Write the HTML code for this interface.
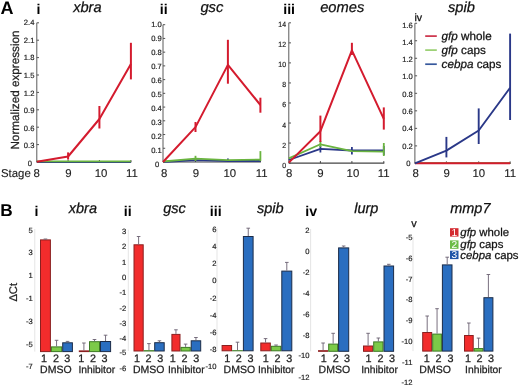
<!DOCTYPE html>
<html><head><meta charset="utf-8"><style>
html,body{margin:0;padding:0;background:#fff;}
svg{display:block;filter:blur(0.4px);font-family:"Liberation Sans", sans-serif;text-rendering:geometricPrecision;}
</style></head><body>
<svg width="520" height="387" viewBox="0 0 520 387">
<rect width="520" height="387" fill="#fff"/>
<text x="0.6" y="13.9" font-size="18.0" text-anchor="start" font-weight="bold" font-style="normal" fill="#000" >A</text>
<text x="36.6" y="14.2" font-size="14.2" text-anchor="start" font-weight="bold" font-style="normal" fill="#000" letter-spacing="0">i</text>
<text x="73.2" y="11.7" font-size="14.6" text-anchor="start" font-weight="normal" font-style="italic" fill="#111" stroke="#111" stroke-width="0.25" >xbra</text>
<text x="159.8" y="14.2" font-size="14.2" text-anchor="start" font-weight="bold" font-style="normal" fill="#000" letter-spacing="0">ii</text>
<text x="200.4" y="11.6" font-size="14.8" text-anchor="start" font-weight="normal" font-style="italic" fill="#111" stroke="#111" stroke-width="0.25" >gsc</text>
<text x="283.2" y="14.2" font-size="14.2" text-anchor="start" font-weight="bold" font-style="normal" fill="#000" letter-spacing="0">iii</text>
<text x="320.2" y="11.6" font-size="14.7" text-anchor="start" font-weight="normal" font-style="italic" fill="#111" stroke="#111" stroke-width="0.25" >eomes</text>
<text x="414.4" y="21.0" font-size="10.6" text-anchor="start" font-weight="normal" font-style="normal" fill="#111" stroke="#111" stroke-width="0.25" >iv</text>
<text x="448" y="11.7" font-size="14.6" text-anchor="start" font-weight="normal" font-style="italic" fill="#111" stroke="#111" stroke-width="0.25" >spib</text>
<text transform="translate(18.9,149.6) rotate(-90)" font-size="11.72" fill="#222" stroke="#222" stroke-width="0.25">Normalized expression</text>
<line x1="36.8" y1="22.80000000000001" x2="36.8" y2="162.0" stroke="#5a5a5a" stroke-width="1.0" />
<line x1="36.8" y1="162.0" x2="131.4" y2="162.0" stroke="#444" stroke-width="1.2" />
<line x1="36.8" y1="162.0" x2="39.0" y2="162.0" stroke="#555" stroke-width="1" />
<text transform="translate(31.999999999999993,165.79999999999998) scale(1.0,1)" font-size="7.6" text-anchor="end" fill="#222" stroke="#222" stroke-width="0.18">0</text>
<line x1="36.8" y1="144.6" x2="39.0" y2="144.6" stroke="#555" stroke-width="1" />
<text transform="translate(34.39999999999999,148.23199999999997) scale(1.0,1)" font-size="7.6" text-anchor="end" fill="#222" stroke="#222" stroke-width="0.18">0.3</text>
<line x1="36.8" y1="127.2" x2="39.0" y2="127.2" stroke="#555" stroke-width="1" />
<text transform="translate(34.39999999999999,130.664) scale(1.0,1)" font-size="7.6" text-anchor="end" fill="#222" stroke="#222" stroke-width="0.18">0.6</text>
<line x1="36.8" y1="109.8" x2="39.0" y2="109.8" stroke="#555" stroke-width="1" />
<text transform="translate(34.39999999999999,113.09599999999999) scale(1.0,1)" font-size="7.6" text-anchor="end" fill="#222" stroke="#222" stroke-width="0.18">0.9</text>
<line x1="36.8" y1="92.4" x2="39.0" y2="92.4" stroke="#555" stroke-width="1" />
<text transform="translate(34.39999999999999,95.52799999999999) scale(1.0,1)" font-size="7.6" text-anchor="end" fill="#222" stroke="#222" stroke-width="0.18">1.2</text>
<line x1="36.8" y1="75.0" x2="39.0" y2="75.0" stroke="#555" stroke-width="1" />
<text transform="translate(34.39999999999999,77.96) scale(1.0,1)" font-size="7.6" text-anchor="end" fill="#222" stroke="#222" stroke-width="0.18">1.5</text>
<line x1="36.8" y1="57.599999999999994" x2="39.0" y2="57.599999999999994" stroke="#555" stroke-width="1" />
<text transform="translate(34.39999999999999,60.391999999999996) scale(1.0,1)" font-size="7.6" text-anchor="end" fill="#222" stroke="#222" stroke-width="0.18">1.8</text>
<line x1="36.8" y1="40.19999999999999" x2="39.0" y2="40.19999999999999" stroke="#555" stroke-width="1" />
<text transform="translate(34.39999999999999,42.823999999999984) scale(1.0,1)" font-size="7.6" text-anchor="end" fill="#222" stroke="#222" stroke-width="0.18">2.1</text>
<line x1="36.8" y1="22.80000000000001" x2="39.0" y2="22.80000000000001" stroke="#555" stroke-width="1" />
<text transform="translate(34.39999999999999,25.255999999999982) scale(1.0,1)" font-size="7.6" text-anchor="end" fill="#222" stroke="#222" stroke-width="0.18">2.4</text>
<line x1="68.1" y1="162.0" x2="68.1" y2="160.0" stroke="#444" stroke-width="1" />
<line x1="99.4" y1="162.0" x2="99.4" y2="160.0" stroke="#444" stroke-width="1" />
<line x1="130.9" y1="162.0" x2="130.9" y2="160.0" stroke="#444" stroke-width="1" />
<polyline points="36.80,162.20 68.10,162.20 99.40,162.20 130.90,162.20" fill="none" stroke="#2a3888" stroke-width="1.8" stroke-linejoin="round"/>
<polyline points="36.80,161.30 68.10,161.30 99.40,161.30 130.90,161.30" fill="none" stroke="#6ab43f" stroke-width="1.8" stroke-linejoin="round"/>
<polyline points="36.80,161.70 68.10,156.50 99.40,119.00 130.90,63.90" fill="none" stroke="#d41b2e" stroke-width="2.0" stroke-linejoin="round"/>
<line x1="68.1" y1="152.4" x2="68.1" y2="159.6" stroke="#d41b2e" stroke-width="2.0" />
<line x1="99.4" y1="106" x2="99.4" y2="128.5" stroke="#d41b2e" stroke-width="2.0" />
<line x1="130.9" y1="42.8" x2="130.9" y2="79.4" stroke="#d41b2e" stroke-width="2.0" />
<text x="36.6" y="177.2" font-size="11.4" text-anchor="middle" font-weight="normal" font-style="normal" fill="#222" stroke="#222" stroke-width="0.12" >8</text>
<text x="68.5" y="177.2" font-size="11.4" text-anchor="middle" font-weight="normal" font-style="normal" fill="#222" stroke="#222" stroke-width="0.12" >9</text>
<text x="101" y="177.2" font-size="11.4" text-anchor="middle" font-weight="normal" font-style="normal" fill="#222" stroke="#222" stroke-width="0.12" >10</text>
<text x="131.9" y="177.2" font-size="11.4" text-anchor="middle" font-weight="normal" font-style="normal" fill="#222" stroke="#222" stroke-width="0.12" >11</text>
<text x="1" y="177.2" font-size="11.4" text-anchor="start" font-weight="normal" font-style="normal" fill="#222" stroke="#222" stroke-width="0.12" >Stage</text>
<line x1="163" y1="24.69999999999999" x2="163" y2="162.0" stroke="#5a5a5a" stroke-width="1.0" />
<line x1="163" y1="162.0" x2="260.9" y2="162.0" stroke="#444" stroke-width="1.2" />
<line x1="163" y1="162.0" x2="165.2" y2="162.0" stroke="#555" stroke-width="1" />
<text transform="translate(159.3,167.2) scale(1.0,1)" font-size="7.6" text-anchor="end" fill="#222" stroke="#222" stroke-width="0.18">0</text>
<line x1="163" y1="148.27" x2="165.2" y2="148.27" stroke="#555" stroke-width="1" />
<text transform="translate(161.70000000000002,153.16) scale(1.0,1)" font-size="7.6" text-anchor="end" fill="#222" stroke="#222" stroke-width="0.18">0.1</text>
<line x1="163" y1="134.54" x2="165.2" y2="134.54" stroke="#555" stroke-width="1" />
<text transform="translate(161.70000000000002,139.11999999999998) scale(1.0,1)" font-size="7.6" text-anchor="end" fill="#222" stroke="#222" stroke-width="0.18">0.2</text>
<line x1="163" y1="120.81" x2="165.2" y2="120.81" stroke="#555" stroke-width="1" />
<text transform="translate(161.70000000000002,125.08) scale(1.0,1)" font-size="7.6" text-anchor="end" fill="#222" stroke="#222" stroke-width="0.18">0.3</text>
<line x1="163" y1="107.07999999999998" x2="165.2" y2="107.07999999999998" stroke="#555" stroke-width="1" />
<text transform="translate(161.70000000000002,111.04) scale(1.0,1)" font-size="7.6" text-anchor="end" fill="#222" stroke="#222" stroke-width="0.18">0.4</text>
<line x1="163" y1="93.35" x2="165.2" y2="93.35" stroke="#555" stroke-width="1" />
<text transform="translate(161.70000000000002,97.0) scale(1.0,1)" font-size="7.6" text-anchor="end" fill="#222" stroke="#222" stroke-width="0.18">0.5</text>
<line x1="163" y1="79.61999999999999" x2="165.2" y2="79.61999999999999" stroke="#555" stroke-width="1" />
<text transform="translate(161.70000000000002,82.96000000000001) scale(1.0,1)" font-size="7.6" text-anchor="end" fill="#222" stroke="#222" stroke-width="0.18">0.6</text>
<line x1="163" y1="65.89" x2="165.2" y2="65.89" stroke="#555" stroke-width="1" />
<text transform="translate(161.70000000000002,68.92) scale(1.0,1)" font-size="7.6" text-anchor="end" fill="#222" stroke="#222" stroke-width="0.18">0.7</text>
<line x1="163" y1="52.15999999999998" x2="165.2" y2="52.15999999999998" stroke="#555" stroke-width="1" />
<text transform="translate(161.70000000000002,54.879999999999995) scale(1.0,1)" font-size="7.6" text-anchor="end" fill="#222" stroke="#222" stroke-width="0.18">0.8</text>
<line x1="163" y1="38.42999999999999" x2="165.2" y2="38.42999999999999" stroke="#555" stroke-width="1" />
<text transform="translate(161.70000000000002,40.83999999999999) scale(1.0,1)" font-size="7.6" text-anchor="end" fill="#222" stroke="#222" stroke-width="0.18">0.9</text>
<line x1="163" y1="24.69999999999999" x2="165.2" y2="24.69999999999999" stroke="#555" stroke-width="1" />
<text transform="translate(161.70000000000002,26.799999999999994) scale(1.0,1)" font-size="7.6" text-anchor="end" fill="#222" stroke="#222" stroke-width="0.18">1.0</text>
<line x1="195.5" y1="162.0" x2="195.5" y2="160.0" stroke="#444" stroke-width="1" />
<line x1="227.9" y1="162.0" x2="227.9" y2="160.0" stroke="#444" stroke-width="1" />
<line x1="260.4" y1="162.0" x2="260.4" y2="160.0" stroke="#444" stroke-width="1" />
<polyline points="163.00,162.00 195.50,160.20 227.90,161.00 260.40,161.00" fill="none" stroke="#2a3888" stroke-width="1.8" stroke-linejoin="round"/>
<line x1="227.9" y1="158.6" x2="227.9" y2="162" stroke="#2a3888" stroke-width="1.8" />
<polyline points="163.00,161.50 195.50,158.60 227.90,160.20 260.40,159.60" fill="none" stroke="#6ab43f" stroke-width="1.8" stroke-linejoin="round"/>
<line x1="195.5" y1="155.8" x2="195.5" y2="161" stroke="#6ab43f" stroke-width="1.8" />
<line x1="260.4" y1="151.1" x2="260.4" y2="161" stroke="#6ab43f" stroke-width="1.8" />
<polyline points="163.00,162.00 195.50,127.10 227.90,64.90 260.40,105.00" fill="none" stroke="#d41b2e" stroke-width="2.0" stroke-linejoin="round"/>
<line x1="195.5" y1="122" x2="195.5" y2="132" stroke="#d41b2e" stroke-width="2.0" />
<line x1="227.9" y1="39.8" x2="227.9" y2="83.7" stroke="#d41b2e" stroke-width="2.0" />
<line x1="260.4" y1="97.7" x2="260.4" y2="112.7" stroke="#d41b2e" stroke-width="2.0" />
<text x="164.2" y="177.2" font-size="11.4" text-anchor="middle" font-weight="normal" font-style="normal" fill="#222" stroke="#222" stroke-width="0.12" >8</text>
<text x="196" y="177.2" font-size="11.4" text-anchor="middle" font-weight="normal" font-style="normal" fill="#222" stroke="#222" stroke-width="0.12" >9</text>
<text x="229.8" y="177.2" font-size="11.4" text-anchor="middle" font-weight="normal" font-style="normal" fill="#222" stroke="#222" stroke-width="0.12" >10</text>
<text x="261.7" y="177.2" font-size="11.4" text-anchor="middle" font-weight="normal" font-style="normal" fill="#222" stroke="#222" stroke-width="0.12" >11</text>
<line x1="288.8" y1="22.819999999999993" x2="288.8" y2="163.1" stroke="#5a5a5a" stroke-width="1.0" />
<line x1="288.8" y1="163.1" x2="384.3" y2="163.1" stroke="#444" stroke-width="1.2" />
<line x1="288.8" y1="163.1" x2="291.0" y2="163.1" stroke="#555" stroke-width="1" />
<text transform="translate(286.0,167.7) scale(0.92,1)" font-size="7.5" text-anchor="end" fill="#222" stroke="#222" stroke-width="0.18">0</text>
<line x1="288.8" y1="143.06" x2="291.0" y2="143.06" stroke="#555" stroke-width="1" />
<text transform="translate(286.0,147.62) scale(0.92,1)" font-size="7.5" text-anchor="end" fill="#222" stroke="#222" stroke-width="0.18">2</text>
<line x1="288.8" y1="123.02" x2="291.0" y2="123.02" stroke="#555" stroke-width="1" />
<text transform="translate(286.0,127.54) scale(0.92,1)" font-size="7.5" text-anchor="end" fill="#222" stroke="#222" stroke-width="0.18">4</text>
<line x1="288.8" y1="102.97999999999999" x2="291.0" y2="102.97999999999999" stroke="#555" stroke-width="1" />
<text transform="translate(286.0,107.46000000000001) scale(0.92,1)" font-size="7.5" text-anchor="end" fill="#222" stroke="#222" stroke-width="0.18">6</text>
<line x1="288.8" y1="82.94" x2="291.0" y2="82.94" stroke="#555" stroke-width="1" />
<text transform="translate(286.0,87.38000000000001) scale(0.92,1)" font-size="7.5" text-anchor="end" fill="#222" stroke="#222" stroke-width="0.18">8</text>
<line x1="288.8" y1="62.900000000000006" x2="291.0" y2="62.900000000000006" stroke="#555" stroke-width="1" />
<text transform="translate(286.0,67.30000000000001) scale(0.92,1)" font-size="7.5" text-anchor="end" fill="#222" stroke="#222" stroke-width="0.18">10</text>
<line x1="288.8" y1="42.86" x2="291.0" y2="42.86" stroke="#555" stroke-width="1" />
<text transform="translate(286.0,47.22000000000001) scale(0.92,1)" font-size="7.5" text-anchor="end" fill="#222" stroke="#222" stroke-width="0.18">12</text>
<line x1="288.8" y1="22.819999999999993" x2="291.0" y2="22.819999999999993" stroke="#555" stroke-width="1" />
<text transform="translate(286.0,27.139999999999997) scale(0.92,1)" font-size="7.5" text-anchor="end" fill="#222" stroke="#222" stroke-width="0.18">14</text>
<line x1="320.4" y1="163.1" x2="320.4" y2="161.1" stroke="#444" stroke-width="1" />
<line x1="351.9" y1="163.1" x2="351.9" y2="161.1" stroke="#444" stroke-width="1" />
<line x1="383.8" y1="163.1" x2="383.8" y2="161.1" stroke="#444" stroke-width="1" />
<polyline points="288.80,160.00 320.40,148.80 351.90,150.50 383.80,150.50" fill="none" stroke="#2a3888" stroke-width="1.8" stroke-linejoin="round"/>
<line x1="320.4" y1="146" x2="320.4" y2="152.5" stroke="#2a3888" stroke-width="1.8" />
<line x1="351.9" y1="146.9" x2="351.9" y2="154.5" stroke="#2a3888" stroke-width="1.8" />
<line x1="383.8" y1="146" x2="383.8" y2="155" stroke="#2a3888" stroke-width="1.8" />
<polyline points="288.80,158.40 320.40,144.30 351.90,151.10 383.80,151.70" fill="none" stroke="#6ab43f" stroke-width="1.8" stroke-linejoin="round"/>
<line x1="320.4" y1="141" x2="320.4" y2="147" stroke="#6ab43f" stroke-width="1.8" />
<line x1="383.8" y1="143" x2="383.8" y2="156" stroke="#6ab43f" stroke-width="1.8" />
<polyline points="288.80,162.60 320.40,131.20 351.90,50.30 383.80,118.80" fill="none" stroke="#d41b2e" stroke-width="2.0" stroke-linejoin="round"/>
<line x1="320.4" y1="115.6" x2="320.4" y2="142" stroke="#d41b2e" stroke-width="2.0" />
<line x1="351.9" y1="42.8" x2="351.9" y2="55" stroke="#d41b2e" stroke-width="2.0" />
<line x1="383.8" y1="107.4" x2="383.8" y2="129.6" stroke="#d41b2e" stroke-width="2.0" />
<text x="289.2" y="177.2" font-size="11.4" text-anchor="middle" font-weight="normal" font-style="normal" fill="#222" stroke="#222" stroke-width="0.12" >8</text>
<text x="320.4" y="177.2" font-size="11.4" text-anchor="middle" font-weight="normal" font-style="normal" fill="#222" stroke="#222" stroke-width="0.12" >9</text>
<text x="352.9" y="177.2" font-size="11.4" text-anchor="middle" font-weight="normal" font-style="normal" fill="#222" stroke="#222" stroke-width="0.12" >10</text>
<text x="383.6" y="177.2" font-size="11.4" text-anchor="middle" font-weight="normal" font-style="normal" fill="#222" stroke="#222" stroke-width="0.12" >11</text>
<line x1="414.9" y1="23.24000000000001" x2="414.9" y2="163.4" stroke="#5a5a5a" stroke-width="1.0" />
<line x1="414.9" y1="163.4" x2="510.6" y2="163.4" stroke="#444" stroke-width="1.2" />
<line x1="414.9" y1="163.4" x2="417.09999999999997" y2="163.4" stroke="#555" stroke-width="1" />
<text transform="translate(410.40000000000003,165.79999999999998) scale(1.0,1)" font-size="7.6" text-anchor="end" fill="#222" stroke="#222" stroke-width="0.18">0</text>
<line x1="414.9" y1="145.88" x2="417.09999999999997" y2="145.88" stroke="#555" stroke-width="1" />
<text transform="translate(412.8,148.51999999999998) scale(1.0,1)" font-size="7.6" text-anchor="end" fill="#222" stroke="#222" stroke-width="0.18">0.2</text>
<line x1="414.9" y1="128.36" x2="417.09999999999997" y2="128.36" stroke="#555" stroke-width="1" />
<text transform="translate(412.8,131.23999999999998) scale(1.0,1)" font-size="7.6" text-anchor="end" fill="#222" stroke="#222" stroke-width="0.18">0.4</text>
<line x1="414.9" y1="110.84" x2="417.09999999999997" y2="110.84" stroke="#555" stroke-width="1" />
<text transform="translate(412.8,113.96) scale(1.0,1)" font-size="7.6" text-anchor="end" fill="#222" stroke="#222" stroke-width="0.18">0.6</text>
<line x1="414.9" y1="93.32000000000001" x2="417.09999999999997" y2="93.32000000000001" stroke="#555" stroke-width="1" />
<text transform="translate(412.8,96.67999999999999) scale(1.0,1)" font-size="7.6" text-anchor="end" fill="#222" stroke="#222" stroke-width="0.18">0.8</text>
<line x1="414.9" y1="75.80000000000001" x2="417.09999999999997" y2="75.80000000000001" stroke="#555" stroke-width="1" />
<text transform="translate(412.8,79.39999999999999) scale(1.0,1)" font-size="7.6" text-anchor="end" fill="#222" stroke="#222" stroke-width="0.18">1.0</text>
<line x1="414.9" y1="58.280000000000015" x2="417.09999999999997" y2="58.280000000000015" stroke="#555" stroke-width="1" />
<text transform="translate(412.8,62.11999999999999) scale(1.0,1)" font-size="7.6" text-anchor="end" fill="#222" stroke="#222" stroke-width="0.18">1.2</text>
<line x1="414.9" y1="40.76000000000002" x2="417.09999999999997" y2="40.76000000000002" stroke="#555" stroke-width="1" />
<text transform="translate(412.8,44.84) scale(1.0,1)" font-size="7.6" text-anchor="end" fill="#222" stroke="#222" stroke-width="0.18">1.4</text>
<line x1="414.9" y1="23.24000000000001" x2="417.09999999999997" y2="23.24000000000001" stroke="#555" stroke-width="1" />
<text transform="translate(412.8,27.559999999999985) scale(1.0,1)" font-size="7.6" text-anchor="end" fill="#222" stroke="#222" stroke-width="0.18">1.6</text>
<line x1="446.4" y1="163.4" x2="446.4" y2="161.4" stroke="#444" stroke-width="1" />
<line x1="478.7" y1="163.4" x2="478.7" y2="161.4" stroke="#444" stroke-width="1" />
<line x1="510.1" y1="163.4" x2="510.1" y2="161.4" stroke="#444" stroke-width="1" />
<polyline points="414.90,163.20 446.40,163.20 478.70,163.20 510.10,163.20" fill="none" stroke="#6ab43f" stroke-width="1.8" stroke-linejoin="round"/>
<polyline points="414.90,163.20 446.40,163.20 478.70,163.20 510.10,163.20" fill="none" stroke="#d41b2e" stroke-width="2.0" stroke-linejoin="round"/>
<polyline points="414.90,163.40 446.40,150.60 478.70,130.50 510.10,87.80" fill="none" stroke="#2a3888" stroke-width="1.9" stroke-linejoin="round"/>
<line x1="446.4" y1="136.9" x2="446.4" y2="157.4" stroke="#2a3888" stroke-width="1.9" />
<line x1="478.7" y1="108.4" x2="478.7" y2="144" stroke="#2a3888" stroke-width="1.9" />
<line x1="510.1" y1="33.6" x2="510.1" y2="120" stroke="#2a3888" stroke-width="1.9" />
<text x="415.6" y="177.2" font-size="11.4" text-anchor="middle" font-weight="normal" font-style="normal" fill="#222" stroke="#222" stroke-width="0.12" >8</text>
<text x="446.7" y="177.2" font-size="11.4" text-anchor="middle" font-weight="normal" font-style="normal" fill="#222" stroke="#222" stroke-width="0.12" >9</text>
<text x="478.8" y="177.2" font-size="11.4" text-anchor="middle" font-weight="normal" font-style="normal" fill="#222" stroke="#222" stroke-width="0.12" >10</text>
<text x="510.2" y="177.2" font-size="11.4" text-anchor="middle" font-weight="normal" font-style="normal" fill="#222" stroke="#222" stroke-width="0.12" >11</text>
<line x1="425.2" y1="36.1" x2="436.8" y2="36.1" stroke="#cc3048" stroke-width="1.7" />
<text x="441.6" y="40.0" font-size="11.7" fill="#111" stroke="#111" stroke-width="0.25"><tspan font-style="italic">gfp</tspan> whole</text>
<line x1="425.2" y1="50.1" x2="436.8" y2="50.1" stroke="#98cf70" stroke-width="1.7" />
<text x="441.6" y="53.6" font-size="11.7" fill="#111" stroke="#111" stroke-width="0.25"><tspan font-style="italic">gfp</tspan> caps</text>
<line x1="425.2" y1="64.2" x2="436.8" y2="64.2" stroke="#36589c" stroke-width="1.7" />
<text x="441.6" y="67.8" font-size="11.7" fill="#111" stroke="#111" stroke-width="0.25"><tspan font-style="italic">cebpa</tspan> caps</text>
<text x="0.3" y="215.8" font-size="17.2" text-anchor="start" font-weight="bold" font-style="normal" fill="#000" >B</text>
<text x="34.4" y="215.9" font-size="14.2" text-anchor="start" font-weight="bold" font-style="normal" fill="#000" letter-spacing="0">i</text>
<text x="68.8" y="212.9" font-size="14.5" text-anchor="start" font-weight="normal" font-style="italic" fill="#111" stroke="#111" stroke-width="0.25" >xbra</text>
<text x="123.8" y="215.9" font-size="14.2" text-anchor="start" font-weight="bold" font-style="normal" fill="#000" letter-spacing="0">ii</text>
<text x="163.2" y="212.9" font-size="14.5" text-anchor="start" font-weight="normal" font-style="italic" fill="#111" stroke="#111" stroke-width="0.25" >gsc</text>
<text x="209.8" y="215.9" font-size="14.2" text-anchor="start" font-weight="bold" font-style="normal" fill="#000" letter-spacing="0">iii</text>
<text x="257.0" y="212.9" font-size="14.5" text-anchor="start" font-weight="normal" font-style="italic" fill="#111" stroke="#111" stroke-width="0.25" >spib</text>
<text x="305.2" y="215.9" font-size="14.2" text-anchor="start" font-weight="bold" font-style="normal" fill="#000" letter-spacing="0">iv</text>
<text x="354.2" y="212.9" font-size="14.5" text-anchor="start" font-weight="normal" font-style="italic" fill="#111" stroke="#111" stroke-width="0.25" >lurp</text>
<text x="411.2" y="226.6" font-size="11" text-anchor="start" font-weight="normal" font-style="normal" fill="#111" stroke="#111" stroke-width="0.25" >v</text>
<text x="450.2" y="212.9" font-size="14.5" text-anchor="start" font-weight="normal" font-style="italic" fill="#111" stroke="#111" stroke-width="0.25" >mmp7</text>
<text transform="translate(17.4,301.6) rotate(-90)" font-size="11.2" fill="#222" stroke="#222" stroke-width="0.2">&#916;Ct</text>
<line x1="34.8" y1="229" x2="34.8" y2="351.6" stroke="#e2e2e2" stroke-width="0.9" />
<text transform="translate(32.75,232.7) scale(1.0,1)" font-size="7.6" text-anchor="end" fill="#222" stroke="#222" stroke-width="0.18">5</text>
<text transform="translate(32.75,255.2) scale(1.0,1)" font-size="7.6" text-anchor="end" fill="#222" stroke="#222" stroke-width="0.18">3</text>
<text transform="translate(32.75,277.5) scale(1.0,1)" font-size="7.6" text-anchor="end" fill="#222" stroke="#222" stroke-width="0.18">1</text>
<text transform="translate(32.75,301.09999999999997) scale(1.0,1)" font-size="7.6" text-anchor="end" fill="#222" stroke="#222" stroke-width="0.18">-1</text>
<text transform="translate(32.75,324.09999999999997) scale(1.0,1)" font-size="7.6" text-anchor="end" fill="#222" stroke="#222" stroke-width="0.18">-3</text>
<text transform="translate(32.75,346.7) scale(1.0,1)" font-size="7.6" text-anchor="end" fill="#222" stroke="#222" stroke-width="0.18">-5</text>
<text transform="translate(32.75,369.4) scale(1.0,1)" font-size="7.6" text-anchor="end" fill="#222" stroke="#222" stroke-width="0.18">-7</text>
<rect x="40.5" y="239.9" width="9.899999999999999" height="111.70000000000002" fill="#f22c2c" stroke="#8a2020" stroke-width="1" />
<line x1="45.45" y1="239.0" x2="45.45" y2="239.4" stroke="#6a6070" stroke-width="0.9" />
<line x1="43.650000000000006" y1="239.0" x2="47.25" y2="239.0" stroke="#6a6070" stroke-width="0.9" />
<text x="43.9" y="361.6" font-size="10.8" text-anchor="middle" font-weight="normal" font-style="normal" fill="#222" stroke="#222" stroke-width="0.25" >1</text>
<rect x="51.4" y="346.9" width="10.300000000000004" height="4.7000000000000455" fill="#7cca48" stroke="#3c7a24" stroke-width="1" />
<line x1="56.55" y1="340.3" x2="56.55" y2="346.4" stroke="#6a6070" stroke-width="0.9" />
<line x1="54.75" y1="340.3" x2="58.349999999999994" y2="340.3" stroke="#6a6070" stroke-width="0.9" />
<text x="56" y="361.6" font-size="10.8" text-anchor="middle" font-weight="normal" font-style="normal" fill="#222" stroke="#222" stroke-width="0.25" >2</text>
<rect x="62.7" y="342.8" width="9.700000000000003" height="8.800000000000011" fill="#2a6ec0" stroke="#1c2c48" stroke-width="1" />
<line x1="67.55000000000001" y1="341.4" x2="67.55000000000001" y2="342.3" stroke="#6a6070" stroke-width="0.9" />
<line x1="65.75000000000001" y1="341.4" x2="69.35000000000001" y2="341.4" stroke="#6a6070" stroke-width="0.9" />
<text x="67.3" y="361.6" font-size="10.8" text-anchor="middle" font-weight="normal" font-style="normal" fill="#222" stroke="#222" stroke-width="0.25" >3</text>
<rect x="79.3" y="350.9" width="9.200000000000003" height="0.7000000000000455" fill="#f22c2c" stroke="#8a2020" stroke-width="1" />
<line x1="83.9" y1="343" x2="83.9" y2="350.4" stroke="#6a6070" stroke-width="0.9" />
<line x1="82.10000000000001" y1="343" x2="85.7" y2="343" stroke="#6a6070" stroke-width="0.9" />
<text x="81.2" y="361.6" font-size="10.8" text-anchor="middle" font-weight="normal" font-style="normal" fill="#222" stroke="#222" stroke-width="0.25" >1</text>
<rect x="89.5" y="341.7" width="10" height="9.900000000000034" fill="#7cca48" stroke="#3c7a24" stroke-width="1" />
<line x1="94.5" y1="339.5" x2="94.5" y2="341.2" stroke="#6a6070" stroke-width="0.9" />
<line x1="92.7" y1="339.5" x2="96.3" y2="339.5" stroke="#6a6070" stroke-width="0.9" />
<text x="93" y="361.6" font-size="10.8" text-anchor="middle" font-weight="normal" font-style="normal" fill="#222" stroke="#222" stroke-width="0.25" >2</text>
<rect x="100.5" y="341.5" width="10.099999999999994" height="10.100000000000023" fill="#2a6ec0" stroke="#1c2c48" stroke-width="1" />
<line x1="105.55" y1="335.2" x2="105.55" y2="341" stroke="#6a6070" stroke-width="0.9" />
<line x1="103.75" y1="335.2" x2="107.35" y2="335.2" stroke="#6a6070" stroke-width="0.9" />
<text x="104.6" y="361.6" font-size="10.8" text-anchor="middle" font-weight="normal" font-style="normal" fill="#222" stroke="#222" stroke-width="0.25" >3</text>
<text x="55.8" y="373.4" font-size="10.5" text-anchor="middle" font-weight="normal" font-style="normal" fill="#222" stroke="#222" stroke-width="0.25" >DMSO</text>
<text x="96.8" y="373.4" font-size="10.3" text-anchor="middle" font-weight="normal" font-style="normal" fill="#222" stroke="#222" stroke-width="0.25" >Inhibitor</text>
<line x1="128.3" y1="229.8" x2="128.3" y2="351" stroke="#e2e2e2" stroke-width="0.9" />
<text transform="translate(126.35,233.5) scale(1.0,1)" font-size="7.6" text-anchor="end" fill="#222" stroke="#222" stroke-width="0.18">3</text>
<text transform="translate(126.35,248.79999999999998) scale(1.0,1)" font-size="7.6" text-anchor="end" fill="#222" stroke="#222" stroke-width="0.18">2</text>
<text transform="translate(126.35,264.5) scale(1.0,1)" font-size="7.6" text-anchor="end" fill="#222" stroke="#222" stroke-width="0.18">1</text>
<text transform="translate(126.35,280.0) scale(1.0,1)" font-size="7.6" text-anchor="end" fill="#222" stroke="#222" stroke-width="0.18">0</text>
<text transform="translate(126.35,295.09999999999997) scale(1.0,1)" font-size="7.6" text-anchor="end" fill="#222" stroke="#222" stroke-width="0.18">-1</text>
<text transform="translate(126.35,310.9) scale(1.0,1)" font-size="7.6" text-anchor="end" fill="#222" stroke="#222" stroke-width="0.18">-2</text>
<text transform="translate(126.35,326.09999999999997) scale(1.0,1)" font-size="7.6" text-anchor="end" fill="#222" stroke="#222" stroke-width="0.18">-3</text>
<text transform="translate(126.35,340.7) scale(1.0,1)" font-size="7.6" text-anchor="end" fill="#222" stroke="#222" stroke-width="0.18">-4</text>
<text transform="translate(126.35,355.09999999999997) scale(1.0,1)" font-size="7.6" text-anchor="end" fill="#222" stroke="#222" stroke-width="0.18">-5</text>
<text transform="translate(126.35,370.59999999999997) scale(1.0,1)" font-size="7.6" text-anchor="end" fill="#222" stroke="#222" stroke-width="0.18">-6</text>
<rect x="134.0" y="244.8" width="9.199999999999989" height="106.19999999999999" fill="#f22c2c" stroke="#8a2020" stroke-width="1" />
<line x1="138.6" y1="236.5" x2="138.6" y2="244.3" stroke="#6a6070" stroke-width="0.9" />
<line x1="136.79999999999998" y1="236.5" x2="140.4" y2="236.5" stroke="#6a6070" stroke-width="0.9" />
<text x="137.1" y="361.6" font-size="10.8" text-anchor="middle" font-weight="normal" font-style="normal" fill="#222" stroke="#222" stroke-width="0.25" >1</text>
<rect x="144.2" y="350.7" width="9.5" height="0.30000000000001137" fill="#7cca48" stroke="#3c7a24" stroke-width="1" />
<line x1="148.95" y1="343.6" x2="148.95" y2="350.2" stroke="#6a6070" stroke-width="0.9" />
<line x1="147.14999999999998" y1="343.6" x2="150.75" y2="343.6" stroke="#6a6070" stroke-width="0.9" />
<text x="148.4" y="361.6" font-size="10.8" text-anchor="middle" font-weight="normal" font-style="normal" fill="#222" stroke="#222" stroke-width="0.25" >2</text>
<rect x="154.7" y="342.7" width="9.5" height="8.300000000000011" fill="#2a6ec0" stroke="#1c2c48" stroke-width="1" />
<line x1="159.45" y1="340.8" x2="159.45" y2="342.2" stroke="#6a6070" stroke-width="0.9" />
<line x1="157.64999999999998" y1="340.8" x2="161.25" y2="340.8" stroke="#6a6070" stroke-width="0.9" />
<text x="160.2" y="361.6" font-size="10.8" text-anchor="middle" font-weight="normal" font-style="normal" fill="#222" stroke="#222" stroke-width="0.25" >3</text>
<rect x="171.9" y="334.4" width="8.099999999999994" height="16.600000000000023" fill="#f22c2c" stroke="#8a2020" stroke-width="1" />
<line x1="175.95" y1="329.8" x2="175.95" y2="333.9" stroke="#6a6070" stroke-width="0.9" />
<line x1="174.14999999999998" y1="329.8" x2="177.75" y2="329.8" stroke="#6a6070" stroke-width="0.9" />
<text x="172.8" y="361.6" font-size="10.8" text-anchor="middle" font-weight="normal" font-style="normal" fill="#222" stroke="#222" stroke-width="0.25" >1</text>
<rect x="181.0" y="347.4" width="9.199999999999989" height="3.6000000000000227" fill="#7cca48" stroke="#3c7a24" stroke-width="1" />
<line x1="185.6" y1="344.1" x2="185.6" y2="346.9" stroke="#6a6070" stroke-width="0.9" />
<line x1="183.79999999999998" y1="344.1" x2="187.4" y2="344.1" stroke="#6a6070" stroke-width="0.9" />
<text x="184.5" y="361.6" font-size="10.8" text-anchor="middle" font-weight="normal" font-style="normal" fill="#222" stroke="#222" stroke-width="0.25" >2</text>
<rect x="191.2" y="340.8" width="9.5" height="10.199999999999989" fill="#2a6ec0" stroke="#1c2c48" stroke-width="1" />
<line x1="195.95" y1="337.5" x2="195.95" y2="340.3" stroke="#6a6070" stroke-width="0.9" />
<line x1="194.14999999999998" y1="337.5" x2="197.75" y2="337.5" stroke="#6a6070" stroke-width="0.9" />
<text x="196.2" y="361.6" font-size="10.8" text-anchor="middle" font-weight="normal" font-style="normal" fill="#222" stroke="#222" stroke-width="0.25" >3</text>
<text x="148.7" y="373.4" font-size="10.5" text-anchor="middle" font-weight="normal" font-style="normal" fill="#222" stroke="#222" stroke-width="0.25" >DMSO</text>
<text x="186.3" y="373.4" font-size="10.3" text-anchor="middle" font-weight="normal" font-style="normal" fill="#222" stroke="#222" stroke-width="0.25" >Inhibitor</text>
<line x1="217.0" y1="227.8" x2="217.0" y2="350.8" stroke="#e2e2e2" stroke-width="0.9" />
<text transform="translate(216.54999999999998,231.5) scale(1.0,1)" font-size="7.6" text-anchor="end" fill="#222" stroke="#222" stroke-width="0.18">6</text>
<text transform="translate(216.54999999999998,248.79999999999998) scale(1.0,1)" font-size="7.6" text-anchor="end" fill="#222" stroke="#222" stroke-width="0.18">4</text>
<text transform="translate(216.54999999999998,266.3) scale(1.0,1)" font-size="7.6" text-anchor="end" fill="#222" stroke="#222" stroke-width="0.18">2</text>
<text transform="translate(216.54999999999998,283.09999999999997) scale(1.0,1)" font-size="7.6" text-anchor="end" fill="#222" stroke="#222" stroke-width="0.18">0</text>
<text transform="translate(216.54999999999998,300.7) scale(1.0,1)" font-size="7.6" text-anchor="end" fill="#222" stroke="#222" stroke-width="0.18">-2</text>
<text transform="translate(216.54999999999998,318.09999999999997) scale(1.0,1)" font-size="7.6" text-anchor="end" fill="#222" stroke="#222" stroke-width="0.18">-4</text>
<text transform="translate(216.54999999999998,334.7) scale(1.0,1)" font-size="7.6" text-anchor="end" fill="#222" stroke="#222" stroke-width="0.18">-6</text>
<text transform="translate(216.54999999999998,351.8) scale(1.0,1)" font-size="7.6" text-anchor="end" fill="#222" stroke="#222" stroke-width="0.18">-8</text>
<text transform="translate(216.54999999999998,368.9) scale(1.0,1)" font-size="7.6" text-anchor="end" fill="#222" stroke="#222" stroke-width="0.18">-10</text>
<rect x="222.1" y="345.5" width="9.5" height="5.300000000000011" fill="#f22c2c" stroke="#8a2020" stroke-width="1" />
<text x="227.3" y="361.6" font-size="10.8" text-anchor="middle" font-weight="normal" font-style="normal" fill="#222" stroke="#222" stroke-width="0.25" >1</text>
<rect x="232.6" y="350.7" width="9.800000000000011" height="0.10000000000002274" fill="#7cca48" stroke="#3c7a24" stroke-width="1" />
<line x1="237.5" y1="342.2" x2="237.5" y2="350.2" stroke="#6a6070" stroke-width="0.9" />
<line x1="235.7" y1="342.2" x2="239.3" y2="342.2" stroke="#6a6070" stroke-width="0.9" />
<text x="238.7" y="361.6" font-size="10.8" text-anchor="middle" font-weight="normal" font-style="normal" fill="#222" stroke="#222" stroke-width="0.25" >2</text>
<rect x="243.4" y="236.5" width="9.699999999999989" height="114.30000000000001" fill="#2a6ec0" stroke="#1c2c48" stroke-width="1" />
<line x1="248.25" y1="228.2" x2="248.25" y2="236" stroke="#6a6070" stroke-width="0.9" />
<line x1="246.45" y1="228.2" x2="250.05" y2="228.2" stroke="#6a6070" stroke-width="0.9" />
<text x="250.4" y="361.6" font-size="10.8" text-anchor="middle" font-weight="normal" font-style="normal" fill="#222" stroke="#222" stroke-width="0.25" >3</text>
<rect x="260.8" y="343.0" width="9.5" height="7.800000000000011" fill="#f22c2c" stroke="#8a2020" stroke-width="1" />
<line x1="265.55" y1="338.6" x2="265.55" y2="342.5" stroke="#6a6070" stroke-width="0.9" />
<line x1="263.75" y1="338.6" x2="267.35" y2="338.6" stroke="#6a6070" stroke-width="0.9" />
<text x="265.7" y="361.6" font-size="10.8" text-anchor="middle" font-weight="normal" font-style="normal" fill="#222" stroke="#222" stroke-width="0.25" >1</text>
<rect x="271.3" y="346.3" width="9.5" height="4.5" fill="#7cca48" stroke="#3c7a24" stroke-width="1" />
<line x1="276.05" y1="345" x2="276.05" y2="345.8" stroke="#6a6070" stroke-width="0.9" />
<line x1="274.25" y1="345" x2="277.85" y2="345" stroke="#6a6070" stroke-width="0.9" />
<text x="277.5" y="361.6" font-size="10.8" text-anchor="middle" font-weight="normal" font-style="normal" fill="#222" stroke="#222" stroke-width="0.25" >2</text>
<rect x="281.8" y="271.1" width="10.0" height="79.69999999999999" fill="#2a6ec0" stroke="#1c2c48" stroke-width="1" />
<line x1="286.8" y1="262.4" x2="286.8" y2="270.6" stroke="#6a6070" stroke-width="0.9" />
<line x1="285.0" y1="262.4" x2="288.6" y2="262.4" stroke="#6a6070" stroke-width="0.9" />
<text x="289.3" y="361.6" font-size="10.8" text-anchor="middle" font-weight="normal" font-style="normal" fill="#222" stroke="#222" stroke-width="0.25" >3</text>
<text x="239.3" y="373.4" font-size="10.5" text-anchor="middle" font-weight="normal" font-style="normal" fill="#222" stroke="#222" stroke-width="0.25" >DMSO</text>
<text x="276.2" y="373.4" font-size="10.3" text-anchor="middle" font-weight="normal" font-style="normal" fill="#222" stroke="#222" stroke-width="0.25" >Inhibitor</text>
<line x1="310.6" y1="229" x2="310.6" y2="351.3" stroke="#e2e2e2" stroke-width="0.9" />
<text transform="translate(309.55,232.7) scale(1.0,1)" font-size="7.6" text-anchor="end" fill="#222" stroke="#222" stroke-width="0.18">2</text>
<text transform="translate(309.55,253.89999999999998) scale(1.0,1)" font-size="7.6" text-anchor="end" fill="#222" stroke="#222" stroke-width="0.18">0</text>
<text transform="translate(309.55,274.9) scale(1.0,1)" font-size="7.6" text-anchor="end" fill="#222" stroke="#222" stroke-width="0.18">-2</text>
<text transform="translate(309.55,295.7) scale(1.0,1)" font-size="7.6" text-anchor="end" fill="#222" stroke="#222" stroke-width="0.18">-4</text>
<text transform="translate(309.55,317.2) scale(1.0,1)" font-size="7.6" text-anchor="end" fill="#222" stroke="#222" stroke-width="0.18">-6</text>
<text transform="translate(309.55,337.7) scale(1.0,1)" font-size="7.6" text-anchor="end" fill="#222" stroke="#222" stroke-width="0.18">-8</text>
<text transform="translate(309.55,358.0) scale(1.0,1)" font-size="7.6" text-anchor="end" fill="#222" stroke="#222" stroke-width="0.18">-10</text>
<text transform="translate(309.55,379.7) scale(1.0,1)" font-size="7.6" text-anchor="end" fill="#222" stroke="#222" stroke-width="0.18">-12</text>
<rect x="318.5" y="350.7" width="9.199999999999989" height="0.6000000000000227" fill="#f22c2c" stroke="#8a2020" stroke-width="1" />
<line x1="323.1" y1="343" x2="323.1" y2="350.2" stroke="#6a6070" stroke-width="0.9" />
<line x1="321.3" y1="343" x2="324.90000000000003" y2="343" stroke="#6a6070" stroke-width="0.9" />
<text x="323.7" y="361.6" font-size="10.8" text-anchor="middle" font-weight="normal" font-style="normal" fill="#222" stroke="#222" stroke-width="0.25" >1</text>
<rect x="328.7" y="344.1" width="8.900000000000034" height="7.199999999999989" fill="#7cca48" stroke="#3c7a24" stroke-width="1" />
<line x1="333.15" y1="333.3" x2="333.15" y2="343.6" stroke="#6a6070" stroke-width="0.9" />
<line x1="331.34999999999997" y1="333.3" x2="334.95" y2="333.3" stroke="#6a6070" stroke-width="0.9" />
<text x="335.8" y="361.6" font-size="10.8" text-anchor="middle" font-weight="normal" font-style="normal" fill="#222" stroke="#222" stroke-width="0.25" >2</text>
<rect x="338.6" y="247.9" width="10.099999999999966" height="103.4" fill="#2a6ec0" stroke="#1c2c48" stroke-width="1" />
<line x1="343.65" y1="246.0" x2="343.65" y2="247.4" stroke="#6a6070" stroke-width="0.9" />
<line x1="341.84999999999997" y1="246.0" x2="345.45" y2="246.0" stroke="#6a6070" stroke-width="0.9" />
<text x="347.1" y="361.6" font-size="10.8" text-anchor="middle" font-weight="normal" font-style="normal" fill="#222" stroke="#222" stroke-width="0.25" >3</text>
<rect x="363.5" y="346.0" width="9.199999999999989" height="5.300000000000011" fill="#f22c2c" stroke="#8a2020" stroke-width="1" />
<line x1="368.1" y1="333.3" x2="368.1" y2="345.5" stroke="#6a6070" stroke-width="0.9" />
<line x1="366.3" y1="333.3" x2="369.90000000000003" y2="333.3" stroke="#6a6070" stroke-width="0.9" />
<text x="368.6" y="361.6" font-size="10.8" text-anchor="middle" font-weight="normal" font-style="normal" fill="#222" stroke="#222" stroke-width="0.25" >1</text>
<rect x="373.7" y="341.9" width="9.300000000000011" height="9.400000000000034" fill="#7cca48" stroke="#3c7a24" stroke-width="1" />
<line x1="378.35" y1="338" x2="378.35" y2="341.4" stroke="#6a6070" stroke-width="0.9" />
<line x1="376.55" y1="338" x2="380.15000000000003" y2="338" stroke="#6a6070" stroke-width="0.9" />
<text x="380.6" y="361.6" font-size="10.8" text-anchor="middle" font-weight="normal" font-style="normal" fill="#222" stroke="#222" stroke-width="0.25" >2</text>
<rect x="384.0" y="266.0" width="9.600000000000023" height="85.30000000000001" fill="#2a6ec0" stroke="#1c2c48" stroke-width="1" />
<line x1="388.8" y1="264.3" x2="388.8" y2="265.5" stroke="#6a6070" stroke-width="0.9" />
<line x1="387.0" y1="264.3" x2="390.6" y2="264.3" stroke="#6a6070" stroke-width="0.9" />
<text x="392" y="361.6" font-size="10.8" text-anchor="middle" font-weight="normal" font-style="normal" fill="#222" stroke="#222" stroke-width="0.25" >3</text>
<text x="334.3" y="373.4" font-size="10.5" text-anchor="middle" font-weight="normal" font-style="normal" fill="#222" stroke="#222" stroke-width="0.25" >DMSO</text>
<text x="379.5" y="373.4" font-size="10.3" text-anchor="middle" font-weight="normal" font-style="normal" fill="#222" stroke="#222" stroke-width="0.25" >Inhibitor</text>
<line x1="413.0" y1="236.6" x2="413.0" y2="351.1" stroke="#e2e2e2" stroke-width="0.9" />
<text transform="translate(412.45000000000005,240.29999999999998) scale(1.0,1)" font-size="7.6" text-anchor="end" fill="#222" stroke="#222" stroke-width="0.18">-5</text>
<text transform="translate(412.45000000000005,261.0) scale(1.0,1)" font-size="7.6" text-anchor="end" fill="#222" stroke="#222" stroke-width="0.18">-6</text>
<text transform="translate(412.45000000000005,281.7) scale(1.0,1)" font-size="7.6" text-anchor="end" fill="#222" stroke="#222" stroke-width="0.18">-7</text>
<text transform="translate(412.45000000000005,302.3) scale(1.0,1)" font-size="7.6" text-anchor="end" fill="#222" stroke="#222" stroke-width="0.18">-8</text>
<text transform="translate(412.45000000000005,322.9) scale(1.0,1)" font-size="7.6" text-anchor="end" fill="#222" stroke="#222" stroke-width="0.18">-9</text>
<text transform="translate(412.45000000000005,343.8) scale(1.0,1)" font-size="7.6" text-anchor="end" fill="#222" stroke="#222" stroke-width="0.18">-10</text>
<text transform="translate(412.45000000000005,364.7) scale(1.0,1)" font-size="7.6" text-anchor="end" fill="#222" stroke="#222" stroke-width="0.18">-11</text>
<text transform="translate(412.45000000000005,385.3) scale(1.0,1)" font-size="7.6" text-anchor="end" fill="#222" stroke="#222" stroke-width="0.18">-12</text>
<rect x="422.7" y="332.5" width="9.0" height="18.600000000000023" fill="#f22c2c" stroke="#8a2020" stroke-width="1" />
<line x1="427.2" y1="316" x2="427.2" y2="332" stroke="#6a6070" stroke-width="0.9" />
<line x1="425.4" y1="316" x2="429.0" y2="316" stroke="#6a6070" stroke-width="0.9" />
<text x="426.7" y="361.6" font-size="10.8" text-anchor="middle" font-weight="normal" font-style="normal" fill="#222" stroke="#222" stroke-width="0.25" >1</text>
<rect x="432.7" y="334.1" width="8.699999999999989" height="17.0" fill="#7cca48" stroke="#3c7a24" stroke-width="1" />
<line x1="437.04999999999995" y1="308.7" x2="437.04999999999995" y2="333.6" stroke="#6a6070" stroke-width="0.9" />
<line x1="435.24999999999994" y1="308.7" x2="438.84999999999997" y2="308.7" stroke="#6a6070" stroke-width="0.9" />
<text x="438.5" y="361.6" font-size="10.8" text-anchor="middle" font-weight="normal" font-style="normal" fill="#222" stroke="#222" stroke-width="0.25" >2</text>
<rect x="442.4" y="264.9" width="9.600000000000023" height="86.20000000000005" fill="#2a6ec0" stroke="#1c2c48" stroke-width="1" />
<line x1="447.2" y1="257.2" x2="447.2" y2="264.4" stroke="#6a6070" stroke-width="0.9" />
<line x1="445.4" y1="257.2" x2="449.0" y2="257.2" stroke="#6a6070" stroke-width="0.9" />
<text x="450.4" y="361.6" font-size="10.8" text-anchor="middle" font-weight="normal" font-style="normal" fill="#222" stroke="#222" stroke-width="0.25" >3</text>
<rect x="464.5" y="335.5" width="8.699999999999989" height="15.600000000000023" fill="#f22c2c" stroke="#8a2020" stroke-width="1" />
<line x1="468.85" y1="323" x2="468.85" y2="335" stroke="#6a6070" stroke-width="0.9" />
<line x1="467.05" y1="323" x2="470.65000000000003" y2="323" stroke="#6a6070" stroke-width="0.9" />
<text x="467.9" y="361.6" font-size="10.8" text-anchor="middle" font-weight="normal" font-style="normal" fill="#222" stroke="#222" stroke-width="0.25" >1</text>
<rect x="474.2" y="348.6" width="8.699999999999989" height="2.5" fill="#7cca48" stroke="#3c7a24" stroke-width="1" />
<line x1="478.54999999999995" y1="338.1" x2="478.54999999999995" y2="348.1" stroke="#6a6070" stroke-width="0.9" />
<line x1="476.74999999999994" y1="338.1" x2="480.34999999999997" y2="338.1" stroke="#6a6070" stroke-width="0.9" />
<text x="479.6" y="361.6" font-size="10.8" text-anchor="middle" font-weight="normal" font-style="normal" fill="#222" stroke="#222" stroke-width="0.25" >2</text>
<rect x="483.9" y="297.7" width="9.0" height="53.400000000000034" fill="#2a6ec0" stroke="#1c2c48" stroke-width="1" />
<line x1="488.4" y1="274.5" x2="488.4" y2="297.2" stroke="#6a6070" stroke-width="0.9" />
<line x1="486.59999999999997" y1="274.5" x2="490.2" y2="274.5" stroke="#6a6070" stroke-width="0.9" />
<text x="491.1" y="361.6" font-size="10.8" text-anchor="middle" font-weight="normal" font-style="normal" fill="#222" stroke="#222" stroke-width="0.25" >3</text>
<text x="435.1" y="373.4" font-size="10.5" text-anchor="middle" font-weight="normal" font-style="normal" fill="#222" stroke="#222" stroke-width="0.25" >DMSO</text>
<text x="483.4" y="373.4" font-size="10.3" text-anchor="middle" font-weight="normal" font-style="normal" fill="#222" stroke="#222" stroke-width="0.25" >Inhibitor</text>
<rect x="450" y="228.2" width="8.5" height="8.4" fill="#d42a30" />
<text x="454.25" y="235.89999999999998" font-size="10.2" text-anchor="middle" font-weight="normal" font-style="normal" fill="#fff" >1</text>
<text x="460.3" y="236.2" font-size="11.4" fill="#111" stroke="#111" stroke-width="0.25"><tspan font-style="italic">gfp</tspan> whole</text>
<rect x="450" y="240.4" width="8.5" height="8.4" fill="#6cbc48" />
<text x="454.25" y="248.1" font-size="10.2" text-anchor="middle" font-weight="normal" font-style="normal" fill="#fff" >2</text>
<text x="460.3" y="248.4" font-size="11.4" fill="#111" stroke="#111" stroke-width="0.25"><tspan font-style="italic">gfp</tspan> caps</text>
<rect x="450" y="250.7" width="8.5" height="8.4" fill="#1f55a8" />
<text x="454.25" y="258.4" font-size="10.2" text-anchor="middle" font-weight="normal" font-style="normal" fill="#fff" >3</text>
<text x="460.3" y="258.8" font-size="11.4" fill="#111" stroke="#111" stroke-width="0.25"><tspan font-style="italic">cebpa</tspan> caps</text>
</svg></body></html>
